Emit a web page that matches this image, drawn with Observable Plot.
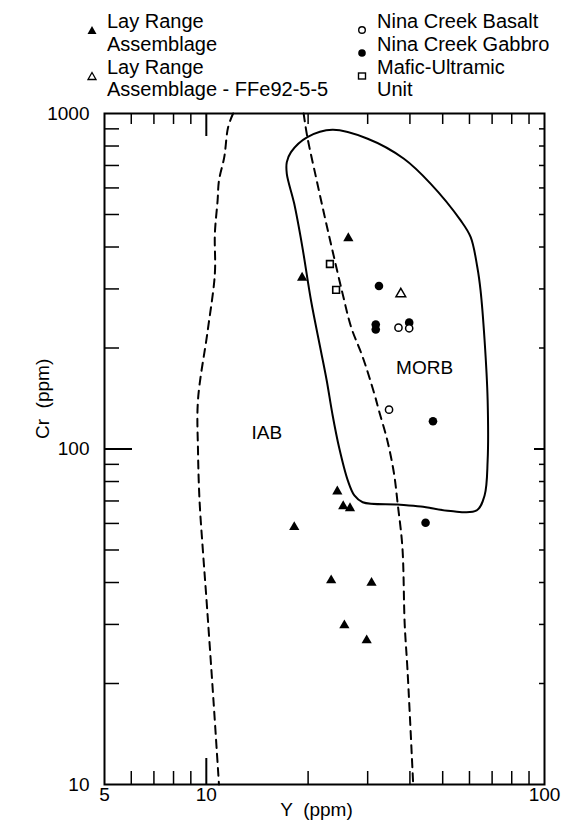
<!DOCTYPE html>
<html><head><meta charset="utf-8">
<script src="https://cdn.jsdelivr.net/npm/d3@7"></script>
<script src="https://cdn.jsdelivr.net/npm/@observablehq/plot@0.6"></script>
<style>
body{margin:0;background:#fff;font-family:"Liberation Sans",Arial,sans-serif;color:#000;}
#wrap{position:relative;width:566px;height:829px;overflow:hidden;}
#legend{position:absolute;left:0;top:0;width:566px;height:110px;font-size:20px;}
.li{position:absolute;white-space:nowrap;line-height:22px;}
.mk{position:absolute;}
</style></head><body>
<div id="wrap"><div id="chart"></div><div id="legend"></div></div>
<script>
// ---- data (Y ppm, Cr ppm) ----
const layRangeY = [26.3, 19.2, 24.4, 25.4, 26.6, 18.2, 23.4, 30.8, 25.6, 29.8];
const layRangeCr = [425, 324, 74.7, 67.5, 66.6, 58.5, 40.6, 39.9, 29.8, 26.9];
const layFFeY = [37.6];
const layFFeCr = [290];
const basaltY = [37.0, 39.8, 34.7];
const basaltCr = [230, 229, 131];
const gabbroY = [32.4, 31.7, 31.7, 39.8, 46.8, 44.5];
const gabbroCr = [306, 235, 227, 238, 121, 60.3];
const maficY = [23.2, 24.2];
const maficCr = [356, 298];

// MORB field outline
const morbY = [23.6, 30.0, 38.4, 46.1, 56.5, 60.5, 63.3, 64.7, 66.5, 67.9, 67.9, 66.5, 63.0, 52.8, 43.1, 36.8, 29.0, 27.4, 26.2, 24.7, 23.6, 22.7, 21.8, 20.4, 19.2, 18.2, 17.3, 17.3, 17.8, 19.9];
const morbCr = [894, 841, 733, 617, 480, 428, 348, 297, 211, 140, 92.4, 72.7, 65.6, 65.3, 67.4, 68.3, 69.4, 72.7, 80.6, 101, 127, 160, 197, 277, 404, 538, 661, 716, 767, 850];

// dashed boundaries
const leftDashY = [12.0, 11.6, 11.3, 10.9, 10.8, 10.6, 10.6, 10.1, 9.45, 9.45, 9.55, 9.77, 10.0, 10.5, 10.9];
const leftDashCr = [1000, 910, 741, 631, 551, 438, 333, 226, 140, 99.0, 70.2, 49.8, 36.2, 17.8, 10];
const rightDashY = [19.4, 19.9, 21.1, 22.3, 23.6, 25.3, 26.8, 29.0, 31.4, 32.4, 34.3, 35.9, 36.8, 38.0, 38.6, 39.3, 40.0, 40.9];
const rightDashCr = [1000, 850, 646, 502, 391, 290, 231, 188, 146, 130, 106, 84.4, 68.7, 51.0, 30.1, 22.4, 15.9, 10];

const fieldNames = ["IAB", "MORB"];
const fieldY = [15.1, 44.2];
const fieldCr = [112, 174];

// ticks
const xTickLabels = [5, 10, 100];
const yTickLabels = [10, 100, 1000];
const xMinorTicks = [6, 7, 8, 9, 20, 30, 40, 50, 60, 70, 80, 90];
const xMajorTicks = [10];
const yMinorTicks = [20, 30, 40, 50, 60, 70, 80, 90, 200, 300, 400, 500, 600, 700, 800, 900];
const yMajorTicks = [100];

const xLabel = "Y  (ppm)";
const yLabel = "Cr  (ppm)";

// legend entries
const legendLeft = [
  {sym: "tri-fill", lines: ["Lay Range", "Assemblage"]},
  {sym: "tri-open", lines: ["Lay Range", "Assemblage - FFe92-5-5"]}
];
const legendRight = [
  {sym: "circ-open", lines: ["Nina Creek Basalt"]},
  {sym: "circ-fill", lines: ["Nina Creek Gabbro"]},
  {sym: "sq-open", lines: ["Mafic-Ultramic", "Unit"]}
];

// ---- build ----
const pts = (xs, ys) => xs.map((x, i) => ({x, y: ys[i]}));
const W = 566, H = 829, mL = 104, mR = 22, mT = 113, mB = 45;
const pw = W - mL - mR, ph = H - mT - mB;
const txt = {fontSize: 19, fill: "black"};

const chart = Plot.plot({
  width: W, height: H,
  marginLeft: mL, marginRight: mR, marginTop: mT, marginBottom: mB,
  style: {fontFamily: "'Liberation Sans', Arial, sans-serif", fontSize: "18px", background: "white", color: "black"},
  x: {type: "log", domain: [5, 100], axis: null},
  y: {type: "log", domain: [10, 1000], axis: null},
  marks: [
    Plot.frame({stroke: "black", strokeWidth: 2}),
    // bottom ticks
    Plot.tickX(xMinorTicks, {x: d => d, insetTop: ph - 13, strokeWidth: 1.5}),
    Plot.tickX(xMajorTicks, {x: d => d, insetTop: ph - 26, strokeWidth: 2}),
    // top ticks
    Plot.tickX(xMinorTicks, {x: d => d, insetBottom: ph - 11, strokeWidth: 1.5}),
    Plot.tickX(xMajorTicks, {x: d => d, insetBottom: ph - 23, strokeWidth: 2}),
    // left ticks
    Plot.tickY(yMinorTicks, {y: d => d, insetRight: pw - 15, strokeWidth: 1.5}),
    Plot.tickY(yMajorTicks, {y: d => d, insetRight: pw - 28, strokeWidth: 2}),
    // right ticks
    Plot.tickY(yMinorTicks, {y: d => d, insetLeft: pw - 5, strokeWidth: 1.5}),
    Plot.tickY(yMajorTicks, {y: d => d, insetLeft: pw - 10, strokeWidth: 2}),
    // tick labels
    Plot.text(xTickLabels, {x: d => d, frameAnchor: "bottom", dy: 16, text: d => String(d), ...txt}),
    Plot.text(yTickLabels, {y: d => d, frameAnchor: "left", dx: -15, textAnchor: "end", text: d => String(d), ...txt}),
    Plot.text([xLabel], {frameAnchor: "bottom", dy: 31, dx: -8, ...txt}),
    Plot.text([yLabel], {frameAnchor: "left", dx: -62, dy: -10, rotate: -90, ...txt}),
    // fields
    Plot.line(pts(morbY, morbCr), {x: "x", y: "y", curve: "catmull-rom-closed", stroke: "black", strokeWidth: 2}),
    Plot.line(pts(leftDashY, leftDashCr), {x: "x", y: "y", curve: "catmull-rom", stroke: "black", strokeWidth: 2, strokeDasharray: "8,6"}),
    Plot.line(pts(rightDashY, rightDashCr), {x: "x", y: "y", curve: "catmull-rom", stroke: "black", strokeWidth: 2, strokeDasharray: "8,6"}),
    Plot.text(fieldNames.map((t, i) => ({t, x: fieldY[i], y: fieldCr[i]})), {x: "x", y: "y", text: "t", ...txt}),
    // points
    Plot.dot(pts(layRangeY, layRangeCr), {x: "x", y: "y", symbol: "triangle", r: 3.8, fill: "black", stroke: "none"}),
    Plot.dot(pts(layFFeY, layFFeCr), {x: "x", y: "y", symbol: "triangle", r: 3.6, fill: "white", stroke: "black", strokeWidth: 1.5}),
    Plot.dot(pts(maficY, maficCr), {x: "x", y: "y", symbol: "square", r: 3.8, fill: "white", stroke: "black", strokeWidth: 1.6}),
    Plot.dot(pts(gabbroY, gabbroCr), {x: "x", y: "y", symbol: "circle", r: 4.3, fill: "black", stroke: "none"}),
    Plot.dot(pts(basaltY, basaltCr), {x: "x", y: "y", symbol: "circle", r: 3.6, fill: "white", stroke: "black", strokeWidth: 1.5})
  ]
});
document.getElementById("chart").appendChild(chart);

// legend (HTML text + small svg symbols)
function symSvg(sym) {
  const s = {
    "tri-fill": '<polygon points="5,1 9.5,9 0.5,9" fill="black"/>',
    "tri-open": '<polygon points="5,1.5 9,8.5 1,8.5" fill="white" stroke="black" stroke-width="1.3"/>',
    "circ-open": '<circle cx="5" cy="5" r="3.3" fill="white" stroke="black" stroke-width="1.4"/>',
    "circ-fill": '<circle cx="5" cy="5" r="3.8" fill="black"/>',
    "sq-open": '<rect x="1.5" y="2" width="7" height="6" fill="white" stroke="black" stroke-width="1.4"/>'
  }[sym];
  return `<svg width="10" height="10" viewBox="0 0 10 10">${s}</svg>`;
}
const leg = document.getElementById("legend");
function addCol(entries, mx, tx, rows) {
  let r = 0;
  entries.forEach(e => {
    const m = document.createElement("div");
    m.className = "mk"; m.style.left = (mx - 5) + "px"; m.style.top = (rows[r] - 4) + "px";
    m.innerHTML = symSvg(e.sym);
    leg.appendChild(m);
    e.lines.forEach(line => {
      const d = document.createElement("div");
      d.className = "li"; d.style.left = tx + "px"; d.style.top = (rows[r] - 11) + "px";
      d.textContent = line; leg.appendChild(d); r++;
    });
  });
}
addCol(legendLeft, 92, 107, [21, 44, 67, 89]);
addCol(legendRight, 362, 377, [21, 44, 67, 89]);
</script>
</body></html>
